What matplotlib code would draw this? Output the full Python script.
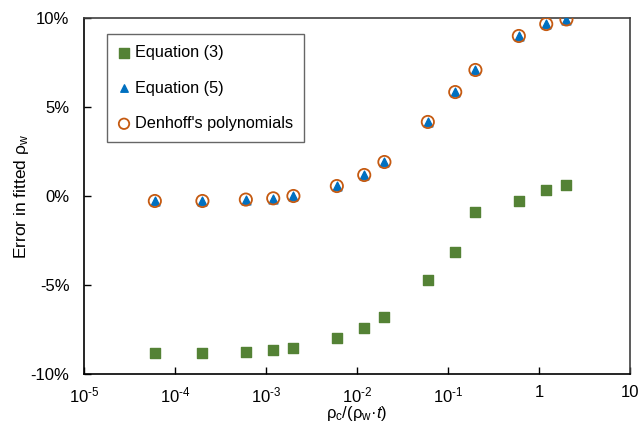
import matplotlib
matplotlib.use('Agg')
import matplotlib.pyplot as plt
import numpy as np

plt.rcParams['font.family'] = ['Liberation Sans', 'DejaVu Sans']
plt.rcParams['mathtext.fontset'] = 'custom'
plt.rcParams['mathtext.rm'] = 'Liberation Sans'
plt.rcParams['mathtext.it'] = 'Liberation Sans:italic'

# data
x = [6e-5, 2e-4, 6e-4, 1.2e-3, 2e-3, 6e-3, 1.2e-2, 2e-2, 6e-2, 0.12, 0.2, 0.6, 1.2, 2.0]
eq3 = [-8.80, -8.80, -8.76, -8.65, -8.52, -8.0, -7.43, -6.8, -4.74, -3.16, -0.92, -0.30, 0.32, 0.60]
eq5 = [-0.30, -0.30, -0.22, -0.15, -0.02, 0.56, 1.18, 1.91, 4.16, 5.84, 7.08, 8.99, 9.66, 9.90]
denhoff = [-0.28, -0.28, -0.20, -0.13, 0.0, 0.56, 1.18, 1.91, 4.16, 5.84, 7.08, 8.99, 9.66, 9.92]

xticks = [1e-5, 1e-4, 1e-3, 1e-2, 1e-1, 1, 10]
xticklabels = ['10$^{\\text{-5}}$', '10$^{\\text{-4}}$', '10$^{\\text{-3}}$',
               '10$^{\\text{-2}}$', '10$^{\\text{-1}}$', '1', '10']
yticks = [-10, -5, 0, 5, 10]
yticklabels = ['-10%', '-5%', '0%', '5%', '10%']

fig = plt.figure(figsize=(6.38, 4.34), dpi=100)
ax = fig.add_axes([0.1317, 0.1382, 0.8558, 0.8203])

ax.scatter(x, eq3, marker='s', s=62, color='#548235', label='Equation (3)', zorder=3)
ax.scatter(x, eq5, marker='^', s=40, color='#0070C0', label='Equation (5)', zorder=4)
ax.scatter(x, denhoff, marker='o', s=78, facecolors='none', edgecolors='#C55A11',
           linewidths=1.3, label="Denhoff's polynomials", zorder=5)

ax.set_xscale('log')
ax.set_xlim(1e-5, 10)
ax.set_ylim(-10, 10)
ax.set_xticks(xticks)
ax.set_xticklabels(xticklabels)
ax.minorticks_off()
ax.set_yticks(yticks)
ax.set_yticklabels(yticklabels)
ax.tick_params(direction='in', length=5, width=1, labelsize=12, pad=8, colors='black')
ax.tick_params(axis='y', pad=10.5)

for side in ['left', 'bottom']:
    ax.spines[side].set_color('black')
    ax.spines[side].set_linewidth(1.2)
for side in ['top', 'right']:
    ax.spines[side].set_color('#404040')
    ax.spines[side].set_linewidth(1.2)

ax.set_xlabel('ρ$_\\mathregular{c}$/(ρ$_\\mathregular{w}$·$\\mathit{t}$)', fontsize=12, labelpad=-1)
ax.set_ylabel('Error in fitted ρ$_\\mathregular{w}$', fontsize=12.5, labelpad=-0.5)

leg = ax.legend(loc='upper left', bbox_to_anchor=(0.042, 0.955), fontsize=11.7, frameon=True,
                fancybox=False, edgecolor='#404040', handlelength=0.7, handletextpad=0.3,
                labelspacing=1.25, borderpad=0.7, borderaxespad=0, scatterpoints=1,
                markerscale=0.85)
leg.get_frame().set_linewidth(1.0)

fig.savefig('out.png', dpi=100)
